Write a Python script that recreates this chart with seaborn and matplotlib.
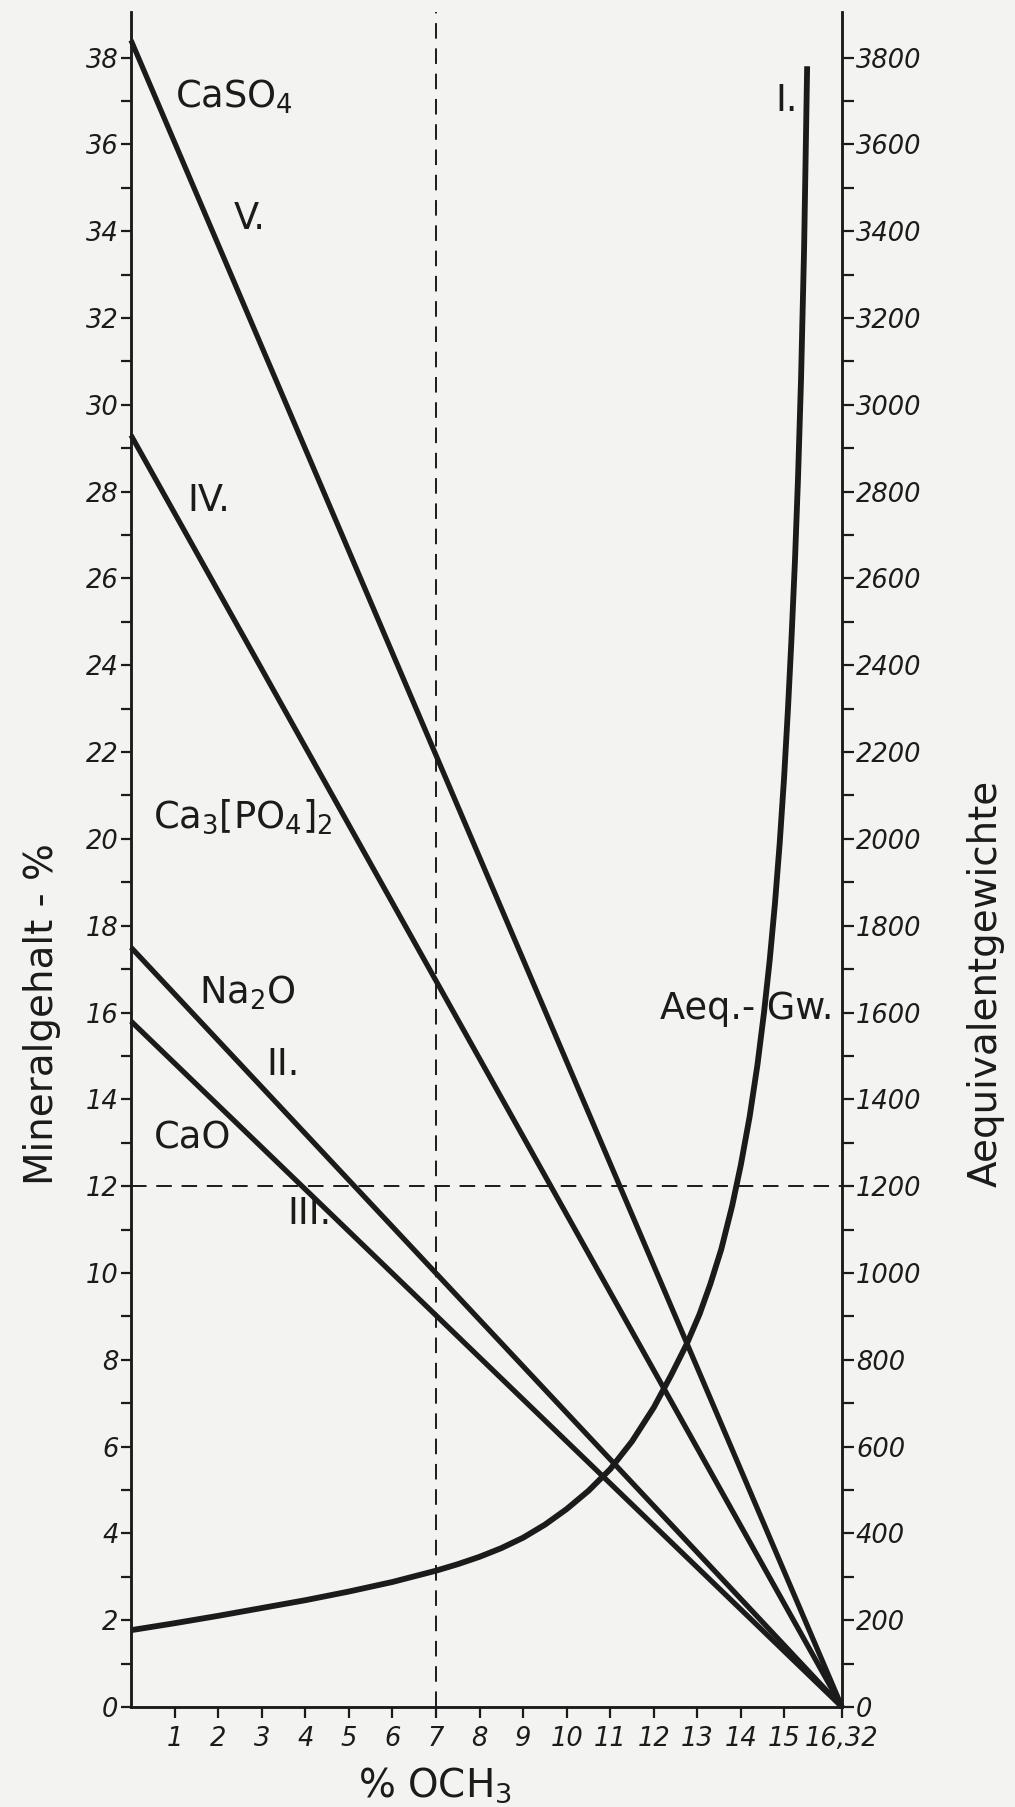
import numpy as np
import pandas as pd
import matplotlib
matplotlib.use("Agg")
import matplotlib.pyplot as plt
import seaborn as sns

# ---------------- data ----------------
och3_line = [0.0, 16.32]              # % OCH3 at start/end of straight lines
caso4_V = [38.4, 0.0]                 # V.  CaSO4
ca3po42_IV = [29.3, 0.0]              # IV. Ca3[PO4]2
na2o_II = [17.5, 0.0]                 # II. Na2O
cao_III = [15.8, 0.0]                 # III. CaO

och3_aeq = [0, 1, 2, 3, 4, 5, 6, 7, 7.5, 8, 8.5, 9, 9.5, 10, 10.5, 11, 11.5,
            12.0, 12.4, 12.75, 13.05, 13.3, 13.55, 13.8, 14.0, 14.2, 14.38,
            14.53, 14.66, 14.78, 14.89, 14.99, 15.08, 15.16, 15.24, 15.31,
            15.38, 15.45, 15.52]
aeq_gw_I = [177, 193, 210, 228, 246, 266, 288, 314, 329, 346, 366, 390, 420,
            456, 498, 548, 612, 690, 765, 835, 905, 975, 1055, 1155, 1250,
            1360, 1480, 1600, 1720, 1850, 1990, 2140, 2300, 2460, 2640, 2830,
            3060, 3360, 3780]

x_ticks = [1, 2, 3, 4, 5, 6, 7, 8, 9, 10, 11, 12, 13, 14, 15, 16.32]
x_tick_labels = ["1", "2", "3", "4", "5", "6", "7", "8", "9", "10", "11",
                 "12", "13", "14", "15", "16,32"]
left_major = list(range(0, 39, 2))
left_minor = list(range(1, 39, 2))
right_major = list(range(0, 3801, 200))
right_minor = list(range(100, 3801, 200))

marker_x = 7        # dashed reference
marker_y = 12       # dashed reference (left scale)

# ---------------- style ----------------
sns.set_style("ticks")
plt.rcParams["font.family"] = ["DejaVu Sans"]
plt.rcParams["mathtext.default"] = "regular"

ink = "#1b1b1b"
paper = "#f3f3f1"

fig = plt.figure(figsize=(10.15, 18.07), dpi=100, facecolor=paper)
ax = fig.add_axes([131 / 1015, 100 / 1807, 711 / 1015, 1695 / 1807])
ax.set_facecolor(paper)
ax2 = ax.twinx()

lw = 3.8
lines_df = pd.concat([
    pd.DataFrame({"x": och3_line, "y": caso4_V, "s": "V"}),
    pd.DataFrame({"x": och3_line, "y": ca3po42_IV, "s": "IV"}),
    pd.DataFrame({"x": och3_line, "y": na2o_II, "s": "II"}),
    pd.DataFrame({"x": och3_line, "y": cao_III, "s": "III"}),
])
sns.lineplot(data=lines_df, x="x", y="y", units="s", estimator=None,
             color=ink, linewidth=lw, ax=ax, clip_on=False,
             solid_capstyle="butt")

aeq_df = pd.DataFrame({"x": och3_aeq, "y": aeq_gw_I})
sns.lineplot(data=aeq_df, x="x", y="y", color=ink, linewidth=4.2, ax=ax2,
             solid_capstyle="butt", solid_joinstyle="round", clip_on=False)

# dashed guide lines
ax.axvline(marker_x, color=ink, linewidth=1.4, dashes=(8, 5))
ax.axhline(marker_y, color=ink, linewidth=1.4, dashes=(8, 5))

# limits
ax.set_xlim(0, 16.32)
ax.set_ylim(0, 39.05)
ax2.set_ylim(0, 3905)

# spines
for a in (ax, ax2):
    a.spines["top"].set_visible(False)
    for s in ("left", "right", "bottom"):
        a.spines[s].set_linewidth(1.8)
        a.spines[s].set_color(ink)

tick_font = dict(family="DejaVu Sans", style="italic", size=18.5)

ax.set_xticks(x_ticks)
ax.set_xticklabels(x_tick_labels, **tick_font)
ax.set_yticks(left_major)
ax.set_yticklabels([str(v) for v in left_major], **tick_font)
ax.set_yticks(left_minor, minor=True)
ax2.set_yticks(right_major)
ax2.set_yticklabels([str(v) for v in right_major], **tick_font)
ax2.set_yticks(right_minor, minor=True)

ax.tick_params(axis="x", which="both", direction="out", length=8, width=1.6,
               pad=6, colors=ink)
ax.tick_params(axis="y", which="both", direction="out", length=7.5, width=1.6,
               pad=1.5, colors=ink)
ax2.tick_params(axis="y", which="both", direction="out", length=8.5,
                width=1.6, pad=1.5, colors=ink)

# axis labels
lab_font = dict(family="DejaVu Sans", size=28, color=ink)
ax.set_xlabel("% OCH$_3$", **lab_font)
ax.xaxis.set_label_coords((435 - 131) / 711, -(1785 - 1707) / 1695)
ax.xaxis.label.set_va("center")
ax.set_ylabel("Mineralgehalt - %", va="center", **lab_font)
ax.yaxis.set_label_coords((42 - 131) / 711, (1707 - 1014) / 1695)
ax2.set_ylabel("Aequivalentgewichte", rotation=90, va="center", **lab_font)
ax2.yaxis.set_label_coords((986 - 131) / 711, (1707 - 983) / 1695)

# curve annotations
ann_font = dict(family="DejaVu Sans", size=26.5, color=ink, ha="left",
                va="center")
ax.text(1.0, 37.1, "CaSO$_4$", **ann_font)
ax.text(2.35, 34.3, "V.", **ann_font)
ax.text(1.3, 27.8, "IV.", **ann_font)
ax.text(0.5, 20.5, "Ca$_3$[PO$_4$]$_2$", **ann_font)
ax.text(1.56, 16.45, "Na$_2$O", **ann_font)
ax.text(3.1, 14.8, "II.", **ann_font)
ax.text(0.53, 13.1, "CaO", **ann_font)
ax.text(3.6, 11.36, "III.", **ann_font)
ax.text(14.8, 37.0, "I.", **ann_font)
ax.text(12.15, 16.1, "Aeq.- Gw.", **ann_font)

fig.savefig("out.png", dpi=100, facecolor=paper)
